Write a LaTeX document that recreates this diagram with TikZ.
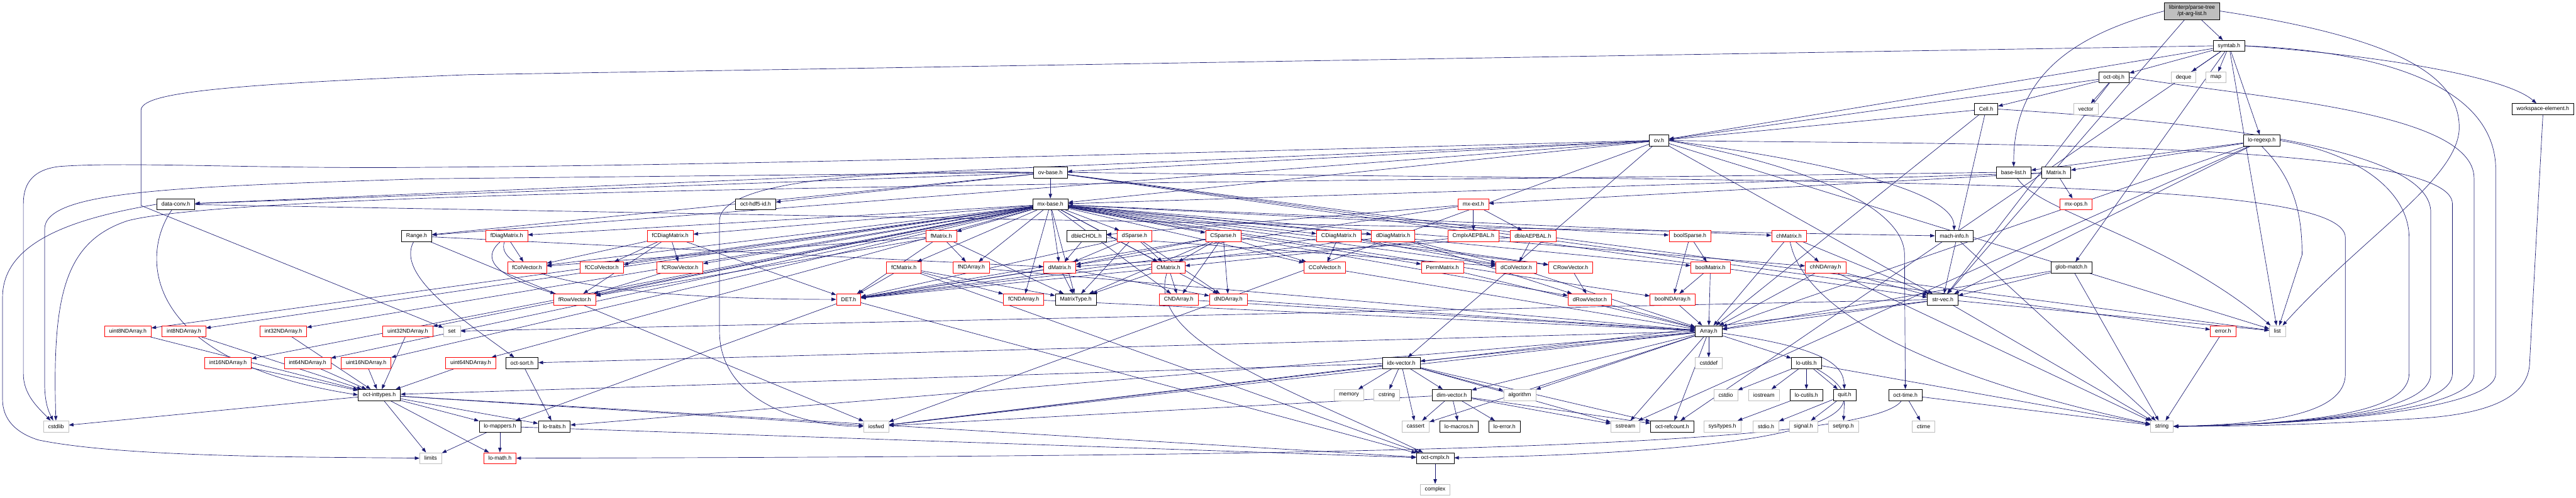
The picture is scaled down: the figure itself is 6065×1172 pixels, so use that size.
\documentclass[tikz,border=0pt]{standalone}
\usepackage{fontspec}
\setmainfont{Liberation Sans}
\usetikzlibrary{arrows.meta}
\pgfdeclarelayer{background}
\pgfsetlayers{background,main}
\definecolor{edgeblue}{HTML}{191970}
\definecolor{sysgray}{HTML}{BFBFBF}
\definecolor{rootgray}{HTML}{BFBFBF}
\begin{document}
\begin{tikzpicture}[
x=1pt, y=-1pt,
every node/.style={
draw,
fill=white,
line width=1pt,
font=\fontsize{13}{15}\selectfont,
inner xsep=11pt,
inner ysep=0pt,
minimum height=26pt
},
trunc/.style={draw=red},
sys/.style={draw=sysgray},
root/.style={fill=rootgray, align=center, minimum height=40pt},
dep/.style={draw=edgeblue, line width=1pt, -{Triangle[length=11pt,width=8pt]}}
]
\useasboundingbox (0,0) rectangle (6065,1172);

\node[root] (ptarg) at (5161,26) {libinterp/parse-tree\\/pt-arg-list.h};

\node (symtab) at (5248,108) {symtab.h};

\node (octobj) at (4977,182) {oct-obj.h};
\node[sys] (deque) at (5141,182) {deque};
\node[sys] (map) at (5217,182) {map};

\node (cell) at (4676,257) {Cell.h};
\node[sys] (vector) at (4911,257) {vector};
\node (wselem) at (5987,257) {workspace-element.h};

\node (ov) at (3906,331) {ov.h};
\node (loregexp) at (5325,331) {lo-regexp.h};

\node (ovbase) at (2473,406) {ov-base.h};
\node (baselist) at (4741,406) {base-list.h};
\node (matrix) at (4841,406) {Matrix.h};

\node (dataconv) at (414,481) {data-conv.h};
\node (hdfid) at (1779,481) {oct-hdf5-id.h};
\node (mxbase) at (2473,481) {mx-base.h};
\node[trunc] (mxext) at (3469,481) {mx-ext.h};
\node[trunc] (mxops) at (4888,481) {mx-ops.h};

\node (range) at (981,556) {Range.h};
\node[trunc] (fdiag) at (1193,556) {fDiagMatrix.h};
\node[trunc] (fcdiag) at (1578,556) {fCDiagMatrix.h};
\node[trunc] (fmatrix) at (2216,556) {fMatrix.h};
\node (dblechol) at (2558,556) {dbleCHOL.h};
\node[trunc] (dsparse) at (2671,556) {dSparse.h};
\node[trunc] (csparse) at (2880,556) {CSparse.h};
\node[trunc] (cdiag) at (3152,556) {CDiagMatrix.h};
\node[trunc] (ddiag) at (3280,556) {dDiagMatrix.h};
\node[trunc] (caepbal) at (3469,556) {CmplxAEPBAL.h};
\node[trunc] (daepbal) at (3609,556) {dbleAEPBAL.h};
\node[trunc] (boolsparse) at (3979,556) {boolSparse.h};
\node[trunc] (chmatrix) at (4212,556) {chMatrix.h};
\node (machinfo) at (4601,556) {mach-info.h};

\node[trunc] (fcolvec) at (1241,630) {fColVector.h};
\node[trunc] (fccolvec) at (1417,630) {fCColVector.h};
\node[trunc] (fcrowvec) at (1601,630) {fCRowVector.h};
\node[trunc] (fcmatrix) at (2128,630) {fCMatrix.h};
\node[trunc] (fndarray) at (2287,630) {fNDArray.h};
\node[trunc] (dmatrix) at (2495,630) {dMatrix.h};
\node[trunc] (cmatrix) at (2751,630) {CMatrix.h};
\node[trunc] (ccolvec) at (3119,630) {CColVector.h};
\node[trunc] (permmatrix) at (3396,630) {PermMatrix.h};
\node[trunc] (dcolvec) at (3570,630) {dColVector.h};
\node[trunc] (crowvec) at (3698,630) {CRowVector.h};
\node[trunc] (boolmatrix) at (4027,630) {boolMatrix.h};
\node[trunc] (chndarray) at (4298,630) {chNDArray.h};
\node (globmatch) at (4877,630) {glob-match.h};

\node[trunc] (frowvec) at (1353,705) {fRowVector.h};
\node[trunc] (det) at (1998,705) {DET.h};
\node[trunc] (fcndarray) at (2410,705) {fCNDArray.h};
\node (matrixtype) at (2533,705) {MatrixType.h};
\node[trunc] (cndarray) at (2775,705) {CNDArray.h};
\node[trunc] (dndarray) at (2892,705) {dNDArray.h};
\node[trunc] (drowvec) at (3743,705) {dRowVector.h};
\node[trunc] (boolndarray) at (3938,705) {boolNDArray.h};
\node (strvec) at (4574,705) {str-vec.h};

\node[trunc] (u8) at (301,780) {uint8NDArray.h};
\node[trunc] (i8) at (433,780) {int8NDArray.h};
\node[trunc] (i32) at (667,780) {int32NDArray.h};
\node[trunc] (u32) at (960,780) {uint32NDArray.h};
\node[sys] (set) at (1064,780) {set};
\node (array) at (4023,780) {Array.h};
\node[trunc] (error) at (5234,780) {error.h};
\node[sys] (list) at (5362,780) {list};

\node[trunc] (i16) at (537,855) {int16NDArray.h};
\node[trunc] (i64) at (724,855) {int64NDArray.h};
\node[trunc] (u16) at (862,855) {uint16NDArray.h};
\node[trunc] (u64) at (1108,855) {uint64NDArray.h};
\node (octsort) at (1229,855) {oct-sort.h};
\node (idxvec) at (3299,855) {idx-vector.h};
\node[sys] (cstddef) at (4023,855) {cstddef};
\node (loutils) at (4253,855) {lo-utils.h};

\node (inttypes) at (893,930) {oct-inttypes.h};
\node[sys] (memory) at (3176,930) {memory};
\node[sys] (cstring) at (3265,930) {cstring};
\node (dimvec) at (3418,930) {dim-vector.h};
\node[sys] (algorithm) at (3578,930) {algorithm};
\node[sys] (cstdio) at (4063,930) {cstdio};
\node[sys] (iostream) at (4153,930) {iostream};
\node (locutils) at (4253,930) {lo-cutils.h};
\node (quit) at (4343,930) {quit.h};
\node (octtime) at (4486,930) {oct-time.h};

\node[sys] (cstdlib) at (132,1004) {cstdlib};
\node (lomappers) at (1177,1004) {lo-mappers.h};
\node (lotraits) at (1305,1004) {lo-traits.h};
\node[sys] (iosfwd) at (2063,1004) {iosfwd};
\node[sys] (cassert) at (3333,1004) {cassert};
\node (lomacros) at (3435,1004) {lo-macros.h};
\node (loerror) at (3542,1004) {lo-error.h};
\node[sys] (sstream) at (3827,1004) {sstream};
\node (refcount) at (3937,1004) {oct-refcount.h};
\node[sys] (systypes) at (4055,1004) {sys/types.h};
\node[sys] (stdioh) at (4158,1004) {stdio.h};
\node[sys] (signalh) at (4246,1004) {signal.h};
\node[sys] (setjmp) at (4340,1004) {setjmp.h};
\node[sys] (ctime) at (4529,1004) {ctime};
\node[sys] (string) at (5090,1004) {string};

\node[sys] (limits) at (1014,1079) {limits};
\node[trunc] (lomath) at (1177,1079) {lo-math.h};
\node (octcmplx) at (3379,1079) {oct-cmplx.h};

\node[sys] (complex) at (3379,1153) {complex};

\begin{pgfonlayer}{background}
% pt-arg-list.h
\draw[dep] (ptarg) -- (symtab);
\draw[dep] (ptarg.west) .. controls (4850,90) and (4741,200) .. (baselist);
\draw[dep] (ptarg) -- (strvec);
\draw[dep] (ptarg.east) .. controls (5650,90) and (5790,180) .. (5790,300) .. controls (5790,420) and (5560,560) .. (list);

% symtab.h
\draw[dep] (symtab) -- (deque);
\draw[dep] (symtab) -- (map);
\draw[dep] (symtab) -- (octobj);
\draw[dep] (symtab) -- (loregexp);
\draw[dep] (symtab) -- (ov);
\draw[dep] (symtab) -- (globmatch);
\draw[dep] (symtab) -- (list);
\draw[dep] (symtab) -- (refcount);
\draw[dep] (symtab.east) .. controls (5600,130) and (5900,180) .. (wselem);
\draw[dep] (symtab.west) -- (1100,176) .. controls (500,200) and (332,220) .. (332,260) -- (332,484) -- (set);
\draw[dep] (symtab.east) .. controls (5600,120) and (5876,200) .. (5876,400) -- (5876,880) .. controls (5876,960) and (5500,998) .. (string.east);

% oct-obj.h
\draw[dep] (octobj) -- (cell);
\draw[dep] (octobj) -- (vector);
\draw[dep] (octobj) -- (ov);
\draw[dep] (octobj) -- (strvec);
\draw[dep] (octobj.east) .. controls (5300,230) and (5825,260) .. (5825,420) -- (5825,880) .. controls (5825,960) and (5500,998) .. (string.east);

% Cell.h
\draw[dep] (cell) -- (ov);
\draw[dep] (cell) -- (array);
\draw[dep] (cell) -- (strvec);
\draw[dep] (cell.east) .. controls (5400,300) and (5723,380) .. (5723,500) -- (5723,880) .. controls (5723,960) and (5500,998) .. (string.east);

% workspace-element.h
\draw[dep] (wselem.south) -- (5956,850) .. controls (5956,940) and (5850,975) .. (5700,985) .. controls (5500,998) and (5300,1004) .. (string.east);

% lo-regexp.h
\draw[dep] (loregexp) -- (baselist);
\draw[dep] (loregexp) -- (matrix);
\draw[dep] (loregexp) -- (array);
\draw[dep] (loregexp) -- (strvec);
\draw[dep] (loregexp) -- (sstream);
\draw[dep] (loregexp.south) .. controls (5400,420) and (5420,500) .. (5420,600) -- (list);
\draw[dep] (loregexp.east) .. controls (5550,360) and (5672,450) .. (5672,560) -- (5672,880) .. controls (5672,960) and (5500,998) .. (string.east);

% ov.h
\draw[dep] (ov) -- (ovbase);
\draw[dep] (ov) -- (mxbase);
\draw[dep] (ov) -- (range);
\draw[dep] (ov) -- (dataconv);
\draw[dep] (ov) -- (idxvec);
\draw[dep] (ov) -- (strvec);
\draw[dep] (ov) -- (iosfwd);
\draw[dep] (ov) -- (list);
\draw[dep] (ov.east) .. controls (4300,380) and (4600,450) .. (machinfo);
\draw[dep] (ov.east) .. controls (4300,400) and (4484,500) .. (4484,600) -- (octtime);
\draw[dep] (ov.west) .. controls (3000,355) and (1700,390) .. (1000,394) .. controls (600,398) and (300,380) .. (140,392) .. controls (70,400) and (55,440) .. (55,480) -- (55,880) .. controls (55,930) and (90,960) .. (cstdlib);
\draw[dep] (ov.east) .. controls (4600,340) and (5774,330) .. (5774,480) -- (5774,880) .. controls (5774,960) and (5500,998) .. (string.east);

% ov-base.h
\draw[dep] (ovbase) -- (mxbase);
\draw[dep] (ovbase) -- (range);
\draw[dep] (ovbase) -- (dataconv);
\draw[dep] (ovbase) -- (hdfid);
\draw[dep] (ovbase) -- (strvec);
\draw[dep] (ovbase) -- (error);
\draw[dep] (ovbase) -- (list);
\draw[dep] (ovbase.west) -- (1000,421) .. controls (400,440) and (105,450) .. (105,540) -- (105,900) .. controls (105,950) and (115,970) .. (cstdlib);
\draw[dep] (ovbase.west) .. controls (2100,400) and (1694,420) .. (1694,520) -- (1694,780) .. controls (1694,950) and (1900,1004) .. (iosfwd.west);
\draw[dep] (ovbase.east) .. controls (4500,430) and (5522,420) .. (5522,560) -- (5522,880) .. controls (5522,960) and (5400,998) .. (string.east);

% base-list.h, Matrix.h
\draw[dep] (baselist) .. controls (4800,500) and (5100,560) .. (list);
\draw[dep] (baselist.west) .. controls (3000,430) and (600,440) .. (300,520) .. controls (150,570) and (123,700) .. (cstdlib);
\draw[dep] (matrix) -- (mxbase);
\draw[dep] (matrix) -- (mxops);
\draw[dep] (matrix) -- (mxext);

% data-conv.h
\draw[dep] (dataconv) -- (machinfo);
\draw[dep] (dataconv) .. controls (330,600) and (330,850) .. (inttypes.west);
\draw[dep] (dataconv.west) .. controls (200,510) and (6,560) .. (6,700) -- (6,940) .. controls (6,990) and (40,1020) .. (90,1036) .. controls (300,1080) and (800,1076) .. (limits.west);

% mx-base.h
\draw[dep] (mxbase) -- (matrixtype);
\draw[dep] (mxbase) -- (boolmatrix);
\draw[dep] (mxbase) -- (chmatrix);
\draw[dep] (mxbase) -- (dmatrix);
\draw[dep] (mxbase) -- (cmatrix);
\draw[dep] (mxbase) -- (fmatrix);
\draw[dep] (mxbase) -- (fcmatrix);
\draw[dep] (mxbase) -- (dcolvec);
\draw[dep] (mxbase) -- (drowvec);
\draw[dep] (mxbase) -- (ccolvec);
\draw[dep] (mxbase) -- (crowvec);
\draw[dep] (mxbase) -- (fcolvec);
\draw[dep] (mxbase) -- (frowvec);
\draw[dep] (mxbase) -- (fccolvec);
\draw[dep] (mxbase) -- (fcrowvec);
\draw[dep] (mxbase) -- (ddiag);
\draw[dep] (mxbase) -- (cdiag);
\draw[dep] (mxbase) -- (fdiag);
\draw[dep] (mxbase) -- (fcdiag);
\draw[dep] (mxbase) -- (permmatrix);
\draw[dep] (mxbase) -- (boolsparse);
\draw[dep] (mxbase) -- (dsparse);
\draw[dep] (mxbase) -- (csparse);
\draw[dep] (mxbase) -- (boolndarray);
\draw[dep] (mxbase) -- (chndarray);
\draw[dep] (mxbase) -- (dndarray);
\draw[dep] (mxbase) -- (cndarray);
\draw[dep] (mxbase) -- (fndarray);
\draw[dep] (mxbase) -- (fcndarray);
\draw[dep] (mxbase) -- (i8);
\draw[dep] (mxbase) -- (i16);
\draw[dep] (mxbase) -- (i32);
\draw[dep] (mxbase) -- (i64);
\draw[dep] (mxbase) -- (u8);
\draw[dep] (mxbase) -- (u16);
\draw[dep] (mxbase) -- (u32);
\draw[dep] (mxbase) -- (u64);

% mx-ext.h
\draw[dep] (mxext) -- (caepbal);
\draw[dep] (mxext) -- (daepbal);
\draw[dep] (mxext) -- (dblechol);
\draw[dep] (mxext) -- (det);

% Range.h
\draw[dep] (range) -- (dmatrix);
\draw[dep] (range) .. controls (930,650) and (1100,760) .. (octsort);
\draw[dep] (range) -- (iosfwd);

% matrix headers
\draw[dep] (dblechol) -- (dmatrix);
\draw[dep] (dblechol) -- (dcolvec);
\draw[dep] (fdiag) -- (fcolvec);
\draw[dep] (fdiag) .. controls (1120,620) and (1200,660) .. (frowvec);
\draw[dep] (fdiag) .. controls (1160,640) and (1400,705) .. (det);
\draw[dep] (fcdiag) -- (fcolvec);
\draw[dep] (fcdiag) -- (fccolvec);
\draw[dep] (fcdiag) -- (fcrowvec);
\draw[dep] (fcdiag) -- (frowvec);
\draw[dep] (fcdiag) -- (det);
\draw[dep] (fcrowvec) -- (frowvec);
\draw[dep] (fmatrix) -- (fndarray);
\draw[dep] (fmatrix) -- (matrixtype);
\draw[dep] (fmatrix) -- (det);
\draw[dep] (fmatrix) -- (fcolvec);
\draw[dep] (fmatrix) -- (frowvec);
\draw[dep] (fcmatrix) -- (fcndarray);
\draw[dep] (fcmatrix) -- (matrixtype);
\draw[dep] (fcmatrix) -- (det);
\draw[dep] (fcmatrix) -- (octcmplx);
\draw[dep] (dmatrix) -- (dndarray);
\draw[dep] (dmatrix) -- (matrixtype);
\draw[dep] (dmatrix) -- (det);
\draw[dep] (cmatrix) -- (cndarray);
\draw[dep] (cmatrix) -- (matrixtype);
\draw[dep] (cmatrix) -- (det);
\draw[dep] (cmatrix) .. controls (2700,800) and (3000,900) .. (octcmplx);
\draw[dep] (dsparse) -- (dmatrix);
\draw[dep] (dsparse) -- (cmatrix);
\draw[dep] (dsparse) -- (dndarray);
\draw[dep] (dsparse) -- (matrixtype);
\draw[dep] (dsparse) -- (det);
\draw[dep] (csparse) -- (dmatrix);
\draw[dep] (csparse) -- (cmatrix);
\draw[dep] (csparse) -- (cndarray);
\draw[dep] (csparse) -- (dndarray);
\draw[dep] (csparse) -- (ccolvec);
\draw[dep] (csparse) -- (matrixtype);
\draw[dep] (csparse) -- (det);
\draw[dep] (cdiag) -- (ccolvec);
\draw[dep] (cdiag) -- (crowvec);
\draw[dep] (cdiag) -- (dcolvec);
\draw[dep] (cdiag) -- (det);
\draw[dep] (ddiag) -- (dcolvec);
\draw[dep] (ddiag) -- (drowvec);
\draw[dep] (ddiag) -- (det);
\draw[dep] (caepbal) -- (cmatrix);
\draw[dep] (daepbal) -- (dmatrix);
\draw[dep] (daepbal) -- (dcolvec);
\draw[dep] (boolsparse) -- (boolmatrix);
\draw[dep] (boolsparse) -- (boolndarray);
\draw[dep] (boolmatrix) -- (boolndarray);
\draw[dep] (boolmatrix) -- (array);
\draw[dep] (boolndarray) -- (array);
\draw[dep] (chmatrix) -- (chndarray);
\draw[dep] (chmatrix) -- (array);
\draw[dep] (chmatrix) -- (strvec);
\draw[dep] (chmatrix) .. controls (4250,750) and (4600,900) .. (string);
\draw[dep] (chndarray) -- (array);
\draw[dep] (chndarray) -- (strvec);
\draw[dep] (chndarray) -- (string);
\draw[dep] (permmatrix) -- (array);
\draw[dep] (crowvec) -- (drowvec);
\draw[dep] (dcolvec) -- (array);
\draw[dep] (drowvec) -- (array);
\draw[dep] (ccolvec) -- (array);
\draw[dep] (dndarray) -- (array);
\draw[dep] (cndarray) -- (array);
\draw[dep] (fndarray) -- (array);
\draw[dep] (fcndarray) -- (array);

% integer arrays
\draw[dep] (u8) -- (inttypes);
\draw[dep] (i8) -- (inttypes);
\draw[dep] (i32) -- (inttypes);
\draw[dep] (u32) -- (inttypes);
\draw[dep] (i16) -- (inttypes);
\draw[dep] (i64) -- (inttypes);
\draw[dep] (u16) -- (inttypes);
\draw[dep] (u64) -- (inttypes);

% oct-inttypes.h and friends
\draw[dep] (inttypes) -- (cstdlib);
\draw[dep] (inttypes) -- (limits);
\draw[dep] (inttypes) -- (iosfwd);
\draw[dep] (inttypes) -- (lomappers);
\draw[dep] (inttypes) -- (lotraits);
\draw[dep] (inttypes) -- (lomath);
\draw[dep] (inttypes) -- (octcmplx);
\draw[dep] (octsort) -- (lotraits);
\draw[dep] (lomappers) -- (limits);
\draw[dep] (lomappers) -- (lomath);
\draw[dep] (lomappers) -- (octcmplx);
\draw[dep] (det) -- (lomappers);
\draw[dep] (det) -- (octcmplx);
\draw[dep] (machinfo) -- (string);

% str-vec.h, glob-match.h
\draw[dep] (globmatch) -- (array);
\draw[dep] (globmatch) -- (strvec);
\draw[dep] (globmatch) -- (string);
\draw[dep] (strvec) -- (array);
\draw[dep] (strvec) -- (string);
\draw[dep] (strvec) -- (iosfwd);
\draw[dep] (strvec) -- (list);
\draw[dep] (strvec) -- (set);

% Array.h
\draw[dep] (array) -- (cstddef);
\draw[dep] (array) -- (idxvec);
\draw[dep] (array) -- (dimvec);
\draw[dep] (array) -- (algorithm);
\draw[dep] (array) -- (refcount);
\draw[dep] (array) -- (loutils);
\draw[dep] (array) .. controls (4300,820) and (4340,860) .. (quit);
\draw[dep] (array) -- (octsort);
\draw[dep] (array) -- (lotraits);
\draw[dep] (array) -- (iosfwd);
\draw[dep] (array) -- (cassert);
\draw[dep] (array) -- (sstream);

% idx-vector.h, dim-vector.h
\draw[dep] (idxvec) -- (memory);
\draw[dep] (idxvec) -- (cstring);
\draw[dep] (idxvec) -- (dimvec);
\draw[dep] (idxvec) -- (algorithm);
\draw[dep] (idxvec) -- (cassert);
\draw[dep] (idxvec) -- (sstream);
\draw[dep] (idxvec) -- (refcount);
\draw[dep] (idxvec) -- (inttypes);
\draw[dep] (idxvec) -- (iosfwd);
\draw[dep] (dimvec) -- (cassert);
\draw[dep] (dimvec) -- (lomacros);
\draw[dep] (dimvec) -- (loerror);
\draw[dep] (dimvec) -- (sstream);
\draw[dep] (dimvec) -- (refcount);
\draw[dep] (dimvec) -- (iosfwd);

% lo-utils.h and the rest
\draw[dep] (loutils) -- (cstdio);
\draw[dep] (loutils) -- (iostream);
\draw[dep] (loutils) -- (locutils);
\draw[dep] (loutils) -- (quit);
\draw[dep] (loutils) -- (string);
\draw[dep] (loutils) .. controls (4420,950) and (4400,1060) .. (octcmplx);
\draw[dep] (locutils) -- (systypes);
\draw[dep] (quit) -- (stdioh);
\draw[dep] (quit) -- (signalh);
\draw[dep] (quit) -- (setjmp);
\draw[dep] (octtime) -- (ctime);
\draw[dep] (octtime) -- (string);
\draw[dep] (octtime) .. controls (4400,1060) and (3000,1075) .. (lomath);
\draw[dep] (octcmplx) -- (complex);
\draw[dep] (error) -- (string);
\end{pgfonlayer}

\end{tikzpicture}
\end{document}
